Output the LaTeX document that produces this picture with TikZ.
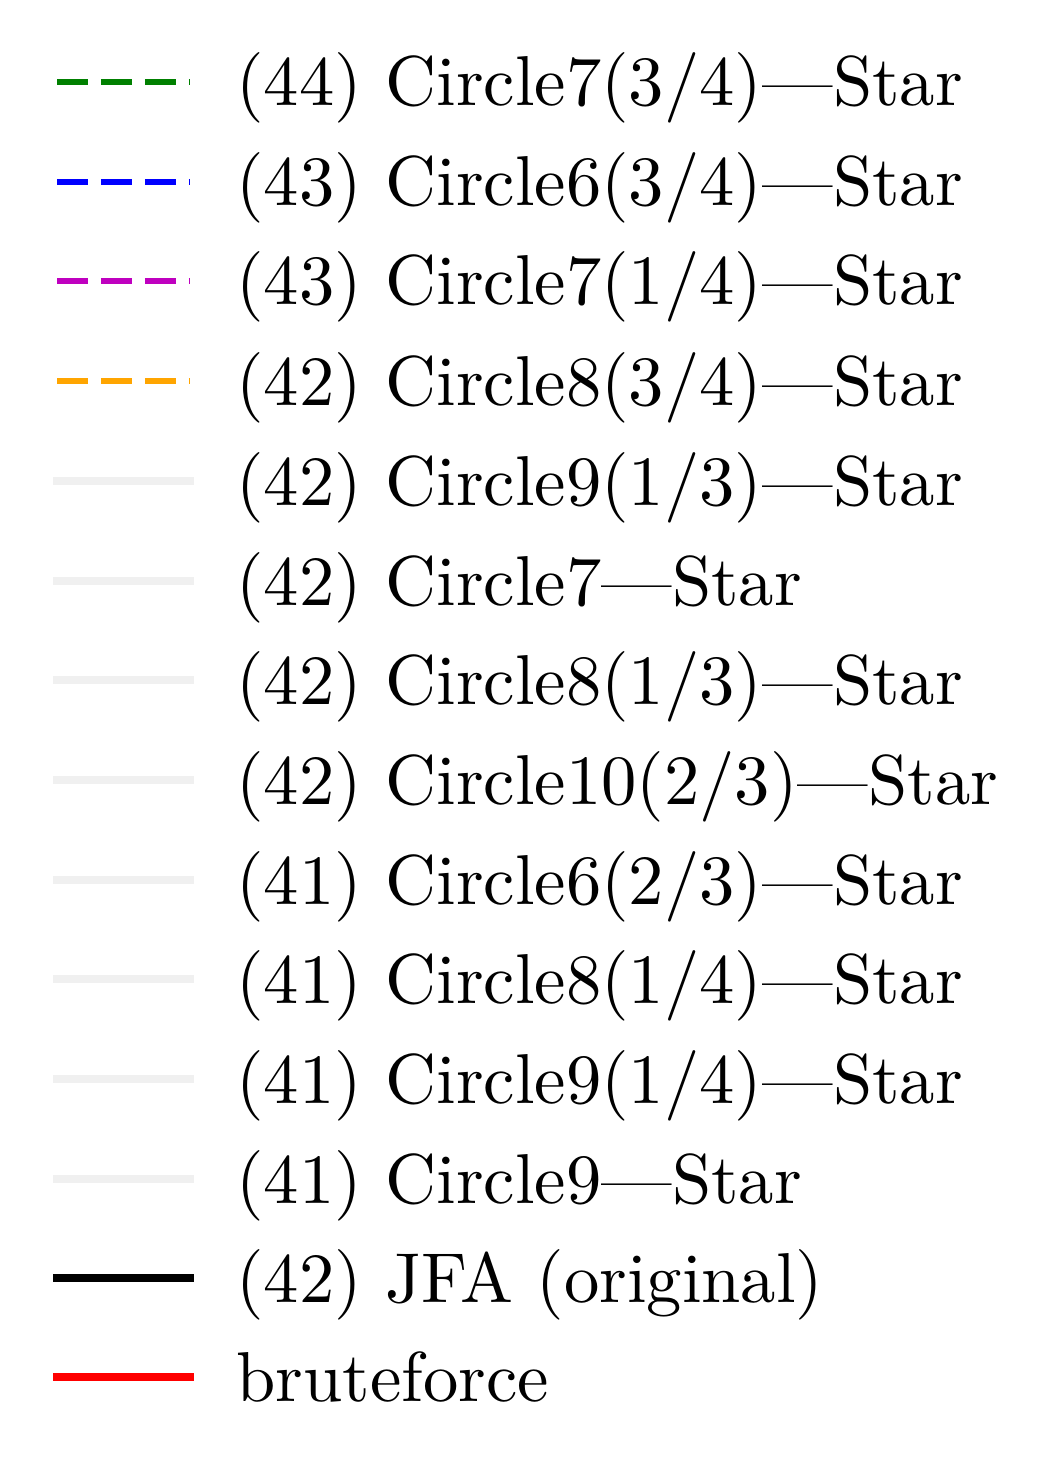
\documentclass[tikz,border=0pt]{standalone}
\usepackage{xcolor}
\definecolor{legorange}{RGB}{255,165,0}
\definecolor{leggreen}{RGB}{0,128,0}
\definecolor{legmagenta}{RGB}{191,0,191}
\definecolor{leggrey}{RGB}{240,240,240}
\tikzset{
  dashedline/.style={line width=0.12cm, dash pattern=on 0.62cm off 0.26cm, line cap=butt},
  solidline/.style={line width=0.16cm, line cap=rect},
  entry/.style={anchor=base west, inner sep=0pt, scale=4.02, font=\fontsize{10}{12}\selectfont}
}
\begin{document}
\begin{tikzpicture}[x=0.02cm,y=-0.02cm]
        \useasboundingbox (0,0) rectangle (1060,1469);

        % line ends
        \coordinate (a1)  at (57,82);    \coordinate (b1)  at (190,82);
        \coordinate (a2)  at (57,182);   \coordinate (b2)  at (190,182);
        \coordinate (a3)  at (57,281);   \coordinate (b3)  at (190,281);
        \coordinate (a4)  at (57,381);   \coordinate (b4)  at (190,381);
        \coordinate (a5)  at (57,481);   \coordinate (b5)  at (190,481);
        \coordinate (a6)  at (57,581);   \coordinate (b6)  at (190,581);
        \coordinate (a7)  at (57,680);   \coordinate (b7)  at (190,680);
        \coordinate (a8)  at (57,780);   \coordinate (b8)  at (190,780);
        \coordinate (a9)  at (57,880);   \coordinate (b9)  at (190,880);
        \coordinate (a10) at (57,979);   \coordinate (b10) at (190,979);
        \coordinate (a11) at (57,1079);  \coordinate (b11) at (190,1079);
        \coordinate (a12) at (57,1179);  \coordinate (b12) at (190,1179);
        \coordinate (a13) at (57,1278);  \coordinate (b13) at (190,1278);
        \coordinate (a14) at (57,1377);  \coordinate (b14) at (190,1377);

        \begin{scope}[every node/.style={entry}]
          \node (t1)  at (235,106)  {(44) Circle7(3/4)---Star};
          \node (t2)  at (235,206)  {(43) Circle6(3/4)---Star};
          \node (t3)  at (235,305)  {(43) Circle7(1/4)---Star};
          \node (t4)  at (235,405)  {(42) Circle8(3/4)---Star};
          \node (t5)  at (235,505)  {(42) Circle9(1/3)---Star};
          \node (t6)  at (235,605)  {(42) Circle7---Star};
          \node (t7)  at (235,704)  {(42) Circle8(1/3)---Star};
          \node (t8)  at (235,804)  {(42) Circle10(2/3)---Star};
          \node (t9)  at (235,904)  {(41) Circle6(2/3)---Star};
          \node (t10) at (235,1003) {(41) Circle8(1/4)---Star};
          \node (t11) at (235,1103) {(41) Circle9(1/4)---Star};
          \node (t12) at (235,1203) {(41) Circle9---Star};
          \node (t13) at (235,1302) {(42) JFA (original)};
          \node (t14) at (235,1401) {bruteforce};
        \end{scope}

        \begin{scope}[every path/.style={dashedline}]
          \draw[leggreen]   (a1) -- (b1);
          \draw[blue]       (a2) -- (b2);
          \draw[legmagenta] (a3) -- (b3);
          \draw[legorange]  (a4) -- (b4);
        \end{scope}

        \begin{scope}[every path/.style={solidline}]
          \draw[leggrey] (a5)  -- (b5);
          \draw[leggrey] (a6)  -- (b6);
          \draw[leggrey] (a7)  -- (b7);
          \draw[leggrey] (a8)  -- (b8);
          \draw[leggrey] (a9)  -- (b9);
          \draw[leggrey] (a10) -- (b10);
          \draw[leggrey] (a11) -- (b11);
          \draw[leggrey] (a12) -- (b12);
          \draw[black]   (a13) -- (b13);
          \draw[red]     (a14) -- (b14);
        \end{scope}

      \end{tikzpicture}
\end{document}
